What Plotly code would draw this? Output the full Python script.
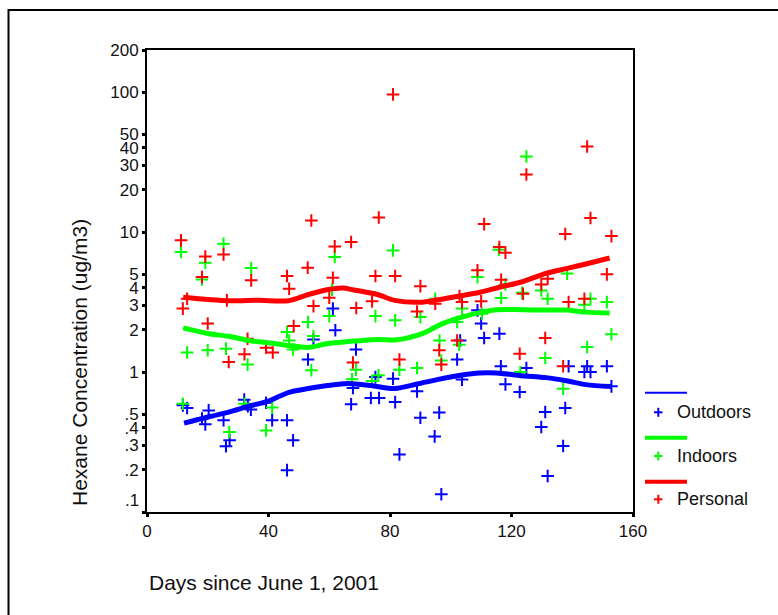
import plotly.graph_objects as go

# ---------------- data ----------------
out_days = [11.8, 13.2, 18.1, 19.2, 20.3, 25.2, 26.0, 27.2, 32.0, 33.2, 34.2, 39.2, 41.2, 46.1, 46.1,
            48.1, 53.0, 54.8, 61.2, 62.0, 67.2, 67.8, 68.8, 73.7, 75.2, 76.4, 81.0, 81.7, 83.1, 88.9,
            90.0, 94.7, 96.2, 96.9, 102.1, 103.1, 103.7, 108.8, 110.0, 111.0, 116.0, 116.5, 118.0,
            122.7, 124.9, 129.8, 131.1, 131.9, 137.0, 137.7, 138.8, 144.0, 144.9, 146.0, 151.4, 152.9]
out_vals = [0.578, 0.553, 0.465, 0.423, 0.532, 0.452, 0.295, 0.325, 0.635, 0.569, 0.539, 0.604, 0.452,
            0.452, 0.199, 0.325, 1.23, 1.71, 2.84, 1.99, 0.588, 0.769, 1.45, 0.652, 0.92, 0.652, 0.897,
            0.61, 0.258, 0.728, 0.472, 0.347, 0.513, 0.134, 1.23, 1.68, 0.883, 2.76, 2.22, 1.75, 1.88,
            1.10, 0.817, 0.72, 1.07, 0.405, 0.518, 0.181, 0.296, 0.553, 1.10, 1.0, 1.10, 1.0, 1.10, 0.79]

ind_days = [11.2, 11.8, 13.2, 18.1, 19.2, 20.0, 25.2, 26.0, 27.1, 32.1, 33.1, 34.3, 39.2, 41.2, 46.1,
            46.8, 48.1, 53.0, 54.1, 54.8, 60.0, 60.9, 61.8, 67.5, 68.8, 74.1, 75.2, 76.2, 81.0, 81.7,
            83.1, 88.9, 90.0, 94.9, 96.3, 96.9, 102.1, 102.8, 103.7, 108.8, 110.3, 115.8, 116.6, 118.0,
            122.9, 123.5, 124.9, 129.8, 131.1, 131.9, 137.0, 138.3, 144.0, 144.9, 146.0, 151.4, 152.9]
ind_vals = [7.2, 0.594, 1.38, 4.58, 6.04, 1.43, 8.26, 1.47, 0.373, 0.594, 1.13, 5.53, 0.383, 0.557, 1.93,
            1.68, 1.45, 2.28, 1.03, 1.81, 2.51, 3.88, 6.63, 0.887, 1.04, 0.863, 2.51, 0.947, 7.4, 2.34,
            1.04, 1.07, 2.47, 3.34, 1.68, 1.21, 2.28, 1.57, 2.84, 4.77, 2.61, 7.48, 3.38, 4.23,
            1.0, 3.69, 34.7, 3.83, 1.26, 3.34, 0.76, 5.05, 3.03, 1.51, 3.34, 3.16, 1.86]

per_days = [11.2, 11.8, 13.2, 18.1, 19.2, 20.0, 25.2, 26.3, 26.9, 32.1, 33.1, 34.3, 39.2, 41.4, 46.1,
            46.8, 48.3, 52.9, 54.1, 54.8, 60.0, 61.2, 61.8, 67.2, 67.8, 68.9, 74.1, 75.2, 76.3, 81.0,
            81.7, 83.1, 88.9, 90.0, 94.9, 96.2, 96.9, 102.1, 102.9, 103.7, 108.8, 110.0, 111.0, 116.0,
            116.6, 118.0, 122.7, 123.8, 124.9, 129.8, 131.1, 131.9, 137.0, 137.7, 138.8, 144.0, 144.9,
            146.0, 151.4, 152.9]
per_vals = [8.73, 2.84, 3.34, 4.77, 6.70, 2.22, 6.93, 3.25, 1.18, 1.34, 1.73, 4.52, 1.49, 1.38, 4.85,
            3.94, 2.13, 5.57, 12.1, 2.96, 3.40, 4.72, 7.9, 8.49, 1.17, 2.87, 3.20, 4.85, 12.7, 96.3,
            4.85, 1.23, 2.71, 4.11, 3.08, 1.43, 1.13, 1.68, 3.49, 3.16, 5.33, 3.2, 11.4, 7.82,
            4.57, 7.13, 1.35, 3.63, 25.8, 4.23, 1.75, 4.65, 1.10, 9.7, 3.16, 3.34, 40.9,
            12.6, 4.99, 9.36]

# smoothed (lowess) fit lines
out_fit_days = [12.2, 20.4, 26.9, 33.5, 40.0, 46.5, 53.1, 59.6, 66.1, 74.3, 81.6, 89.0, 95.5, 103.7,
                109.4, 115.1, 123.3, 131.4, 138.0, 144.5, 152.7]
out_fit_vals = [0.431, 0.479, 0.517, 0.570, 0.620, 0.714, 0.762, 0.802, 0.828, 0.797, 0.762, 0.822,
                0.883, 0.954, 0.986, 0.986, 0.942, 0.912, 0.867, 0.813, 0.787]
ind_fit_days = [11.9, 20.4, 26.9, 33.5, 40.0, 46.5, 53.1, 59.6, 66.1, 75.9, 82.4, 90.6, 97.1, 103.7,
                110.2, 115.1, 123.3, 131.4, 138.0, 144.5, 152.3]
ind_fit_vals = [2.07, 1.88, 1.80, 1.68, 1.62, 1.55, 1.50, 1.60, 1.65, 1.71, 1.70, 1.88, 2.21, 2.47,
                2.68, 2.79, 2.79, 2.77, 2.77, 2.68, 2.64]
per_fit_days = [11.9, 26.6, 36.7, 46.5, 53.1, 59.6, 64.5, 67.8, 75.9, 81.6, 89.8, 95.5, 102.0, 109.4,
                116.7, 123.3, 131.4, 138.0, 144.5, 152.3]
per_fit_vals = [3.42, 3.23, 3.26, 3.23, 3.58, 3.89, 3.99, 3.87, 3.58, 3.25, 3.15, 3.27, 3.47, 3.70,
                4.07, 4.40, 5.07, 5.48, 5.92, 6.53]

series_names = ["Outdoors", "Indoors", "Personal"]
colors = ["#0000FF", "#00FF00", "#FF0000"]

x_ticks = [0, 40, 80, 120, 160]
y_ticks = [0.1, 0.2, 0.3, 0.4, 0.5, 1, 2, 3, 4, 5, 10, 20, 30, 40, 50, 100, 200]
y_tick_text = ["", ".2", ".3", ".4", ".5", "1", "2", "3", "4", "5", "10", "20", "30", "40", "50", "100", "200"]

FONT = "Liberation Sans, Arial, sans-serif"

# ---------------- figure ----------------
fig = go.Figure()
pts = [(out_days, out_vals), (ind_days, ind_vals), (per_days, per_vals)]
fits = [(out_fit_days, out_fit_vals), (ind_fit_days, ind_fit_vals), (per_fit_days, per_fit_vals)]
for (d, v), c, n in zip(pts, colors, series_names):
    fig.add_trace(go.Scatter(x=d, y=v, mode="markers", name=n, showlegend=False,
                             marker=dict(symbol="cross-thin", size=9, color=c,
                                         line=dict(color=c, width=2))))
for (d, v), c, n in zip(fits, colors, series_names):
    fig.add_trace(go.Scatter(x=d, y=v, mode="lines", name=n + " fit", showlegend=False,
                             line=dict(color=c, width=5, shape="spline", smoothing=0.8)))

L, R, T, B = 147, 633, 50, 512
W, H = 778, 615
pw, ph = R - L, B - T


def px(x):
    return (x - L) / pw


def py(y):
    return (B - y) / ph


annotations = [
    dict(text="Hexane Concentration (ug/m3)", xref="paper", yref="paper", x=px(79), y=py(363),
         textangle=-90, showarrow=False, font=dict(family=FONT, size=21, color="#111"),
         xanchor="center", yanchor="middle"),
    dict(text="Days since June 1, 2001", xref="paper", yref="paper", x=px(147), y=py(582),
         showarrow=False, font=dict(family=FONT, size=21, color="#111"),
         xanchor="left", yanchor="middle"),
    dict(text=".1", xref="paper", yref="paper", x=px(141), y=py(500), showarrow=False,
         font=dict(family=FONT, size=17, color="#111"), xanchor="right", yanchor="middle"),
]

shapes = [
    # outer frame
    dict(type="rect", xref="paper", yref="paper", x0=px(8.5), x1=px(800), y0=py(640), y1=py(10),
         line=dict(color="black", width=2)),
]

# manual legend
leg_line_y = [392.7, 437.7, 481.7]
leg_text_y = [412.3, 456.0, 499.3]
leg_line_w = [2, 4, 4]
for n, c, ly, ty, lw in zip(series_names, colors, leg_line_y, leg_text_y, leg_line_w):
    shapes.append(dict(type="line", xref="paper", yref="paper", x0=px(645), x1=px(687),
                       y0=py(ly), y1=py(ly), line=dict(color=c, width=lw)))
    shapes.append(dict(type="line", xref="paper", yref="paper", x0=px(654), x1=px(662.5),
                       y0=py(ty), y1=py(ty), line=dict(color=c, width=2)))
    shapes.append(dict(type="line", xref="paper", yref="paper", x0=px(658.3), x1=px(658.3),
                       y0=py(ty - 4.5), y1=py(ty + 4.5), line=dict(color=c, width=2)))
    annotations.append(dict(text=n, xref="paper", yref="paper", x=px(675), y=py(ty),
                            showarrow=False, xanchor="left", yanchor="middle",
                            font=dict(family=FONT, size=18, color="#111")))

fig.update_layout(
    width=W, height=H,
    margin=dict(l=L, r=W - R, t=T, b=H - B, pad=0),
    paper_bgcolor="white", plot_bgcolor="white",
    font=dict(family=FONT, color="#111"),
    annotations=annotations, shapes=shapes,
    showlegend=False,
)
fig.update_xaxes(range=[0, 160], tickvals=x_ticks, ticktext=[str(t) for t in x_ticks],
                 showline=True, linecolor="black", linewidth=2, mirror=True,
                 ticks="outside", ticklen=3, tickwidth=3, tickcolor="black",
                 showgrid=False, zeroline=False, tickfont=dict(family=FONT, size=17, color="#111"))
fig.update_yaxes(type="log", range=[-1, 2.30103], tickvals=y_ticks, ticktext=y_tick_text,
                 showline=True, linecolor="black", linewidth=2, mirror=True,
                 ticks="outside", ticklen=3, tickwidth=3, tickcolor="black",
                 showgrid=False, zeroline=False, tickfont=dict(family=FONT, size=17, color="#111"))

fig.write_html("out.html")
